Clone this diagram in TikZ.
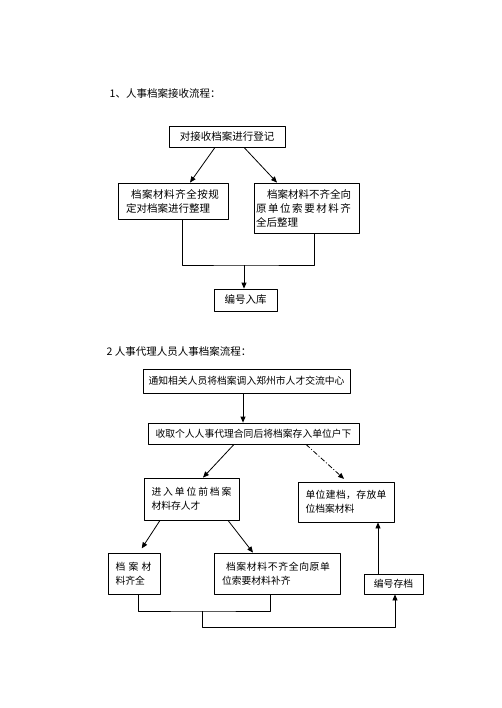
\documentclass[tikz,border=0pt]{standalone}
\usepackage{fontspec}
\newfontfamily\cjk{Noto Sans CJK SC}
\usetikzlibrary{arrows.meta}
\makeatletter
\newcommand\spread[2]{\makebox[#1][s]{\spread@#2\@nil}}
\def\spread@#1#2\@nil{#1\ifx\relax#2\relax\else\hfil\spread@#2\@nil\fi}
\makeatother
\tikzset{
  box/.style={draw,align=left,inner ysep=0pt,font=\cjk\fontsize{10.5}{14}\selectfont},
  sbox/.style={box,font=\cjk\fontsize{9.8}{14.3}\selectfont},
  arr/.style={-{Triangle[length=6pt,width=5pt]}}
}
\begin{document}
\begin{tikzpicture}[x=1pt,y=-1pt,thick,line join=round]
  \useasboundingbox (0,0) rectangle (502,708);
  % part 1
  \node[anchor=west,font=\cjk\fontsize{10.5}{12}\selectfont] (t1) at (106,93) {1、人事档案接收流程：};
  \node[box,align=center,minimum width=116,minimum height=21] (reg) at (227,136.5) {对接收档案进行登记};
  \node[box,text width=94,inner xsep=8,minimum height=36] (ok1) at (173,201)
    {\hspace*{5pt}\spread{88pt}{档案材料齐全按规}\\定对档案进行整理};
  \node[box,text width=101,inner xsep=2,minimum height=50] (miss1) at (306.5,208)
    {\hspace*{11pt}\spread{84pt}{档案材料不齐全向}\\\spread{95pt}{原单位索要材料齐}\\全后整理};
  \node[box,align=center,minimum width=63,minimum height=22] (in1) at (245.5,300) {编号入库};
  \coordinate (j1) at (244,265);
  \draw[arr] ([xshift=-12]reg.south) -- ([xshift=17]ok1.north);
  \draw[arr] ([xshift=17]reg.south) -- ([xshift=-29.5]miss1.north);
  \draw ([xshift=9]ok1.south) |- (j1) -| ([xshift=7.5]miss1.south);
  \draw[arr] (j1) -- (j1 |- in1.north);
  % part 2
  \node[anchor=west,font=\cjk\fontsize{10.5}{12}\selectfont] (t2) at (103,351) {2 人事代理人员人事档案流程：};
  \node[sbox,align=center,minimum width=207,minimum height=24] (note) at (246.5,381) {通知相关人员将档案调入郑州市人才交流中心};
  \node[sbox,align=center,minimum width=211,minimum height=21] (take) at (253.5,433.5) {收取个人人事代理合同后将档案存入单位户下};
  \node[sbox,text width=80,inner xsep=7.5,minimum height=42] (pre) at (191.5,499)
    {\spread{80pt}{进入单位前档案}\\材料存人才};
  \node[sbox,text width=81,inner xsep=7.5,minimum height=40] (unit) at (346,502)
    {\spread{81pt}{单位建档，存放单}\\位档案材料};
  \node[sbox,text width=37,inner xsep=7.5,minimum height=41] (ok2) at (134,573.5)
    {\spread{36pt}{档案材}\\料齐全};
  \node[sbox,text width=110,inner xsep=8,minimum height=41] (miss2) at (277,573.5)
    {\hspace*{4pt}\spread{104pt}{档案材料不齐全向原单}\\位索要材料补齐};
  \node[sbox,align=center,minimum width=59,minimum height=20] (num) at (393.5,584) {编号存档};
  \coordinate (j2) at (202,611);
  \coordinate (j3) at (202,627);
  \draw[arr] ([xshift=-3.5]note.south) -- ([xshift=-10.5]take.north);
  \draw[arr] ([xshift=-19.5]take.south) -- ([xshift=11.5]pre.north);
  \draw[arr,dash pattern=on 5pt off 2pt on 1pt off 2pt,shorten >=4pt] ([xshift=52.5]take.south) -- ([xshift=1]unit.north);
  \draw[arr,shorten >=5pt] ([xshift=-31.5]pre.south) -- ([xshift=5]ok2.north);
  \draw[arr] ([xshift=36.5]pre.south) -- ([xshift=-24]miss2.north);
  \draw[arr] ([xshift=-15.5]num.north) -- ([xshift=32]unit.south);
  \draw ([xshift=4]ok2.south) |- (j2) -| ([xshift=-7]miss2.south);
  \draw[arr] (j2) -- (j3) -| ([xshift=1.5]num.south);
\end{tikzpicture}
\end{document}
